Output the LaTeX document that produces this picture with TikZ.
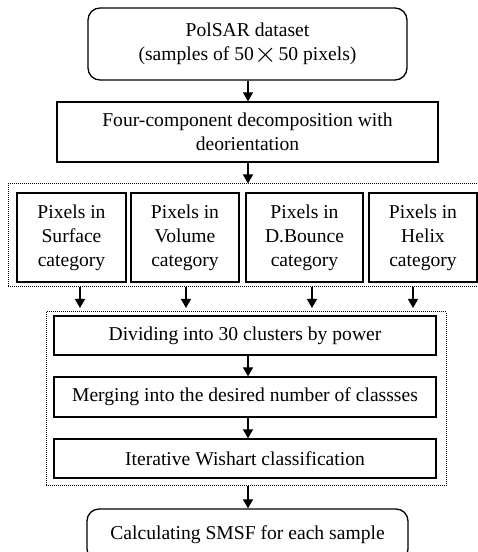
\documentclass[tikz,border=0pt]{standalone}
\usepackage{fontspec}
\usepackage{graphicx}
\setmainfont{Liberation Serif}
\usetikzlibrary{arrows.meta}
\newcommand{\bigtimes}{$\vcenter{\hbox{\scalebox{1.4}{$\times$}}}$}
\begin{document}
\begin{tikzpicture}[x=1pt,y=1pt,
  every node/.style={font=\fontsize{19.6}{24}\selectfont, align=center, inner sep=0pt},
  box/.style={draw, line width=1.3pt, minimum width=#1},
  rbox/.style={draw, line width=1.3pt, rounded corners=12pt, minimum width=#1},
  cont/.style={draw, line width=1pt, dash pattern=on 1pt off 1pt},
  arr/.style={line width=1.3pt, -{Triangle[length=9pt,width=10pt]}}]
\useasboundingbox (0,0) rectangle (478,552);
\clip (0,0) rectangle (478,552);
\node[rbox=319pt, minimum height=72pt] (top) at (247.5,508) {PolSAR dataset\\(samples of 50\kern1pt\bigtimes\kern1pt50 pixels)};
\node[box=381pt, minimum height=60pt] (dec) at (247.5,420) {Four-component decomposition with\\deorientation};
\node[cont, minimum width=482pt, minimum height=103pt] (c1) at (249,316.5) {};
\node[box=109pt, minimum height=89pt] (s) at (71.5,314.5) {Pixels in\\Surface\\category};
\node[box=108pt, minimum height=89pt] (v) at (185,314.5) {Pixels in\\Volume\\category};
\node[box=117pt, minimum height=89pt] (d) at (304.5,314.5) {Pixels in\\D.Bounce\\category};
\node[box=108pt, minimum height=89pt] (h) at (423,314.5) {Pixels in\\Helix\\category};
\node[cont, minimum width=400pt, minimum height=174pt] (c2) at (246,153) {};
\node[box=382pt, minimum height=39pt] (a) at (245,216.5) {Dividing into 30 clusters by power};
\node[box=382pt, minimum height=40pt] (b) at (245,155) {Merging into the desired number of classses};
\node[box=382pt, minimum height=39pt] (c) at (245,93.5) {Iterative Wishart classification};
\node[rbox=321pt, minimum height=52pt] (f) at (247.5,17) {Calculating SMSF for each sample};
\coordinate (e1) at (80,244);
\coordinate (e2) at (186,244);
\coordinate (e3) at (312,244);
\coordinate (e4) at (413,244);
\draw[arr] (top.south -| 248,0) -- (dec.north -| 248,0);
\draw[arr] (dec.south -| 248,0) -- (c1.north -| 248,0);
\draw[arr] (c1.south -| e1) -- (e1);
\draw[arr] (c1.south -| e2) -- (e2);
\draw[arr] (c1.south -| e3) -- (e3);
\draw[arr] (c1.south -| e4) -- (e4);
\draw[arr] (a.south -| 248,0) -- (b.north -| 248,0);
\draw[arr] (b.south -| 248,0) -- (c.north -| 248,0);
\draw[arr] (c2.south -| 248,0) -- (f.north -| 248,0);
\end{tikzpicture}
\end{document}
